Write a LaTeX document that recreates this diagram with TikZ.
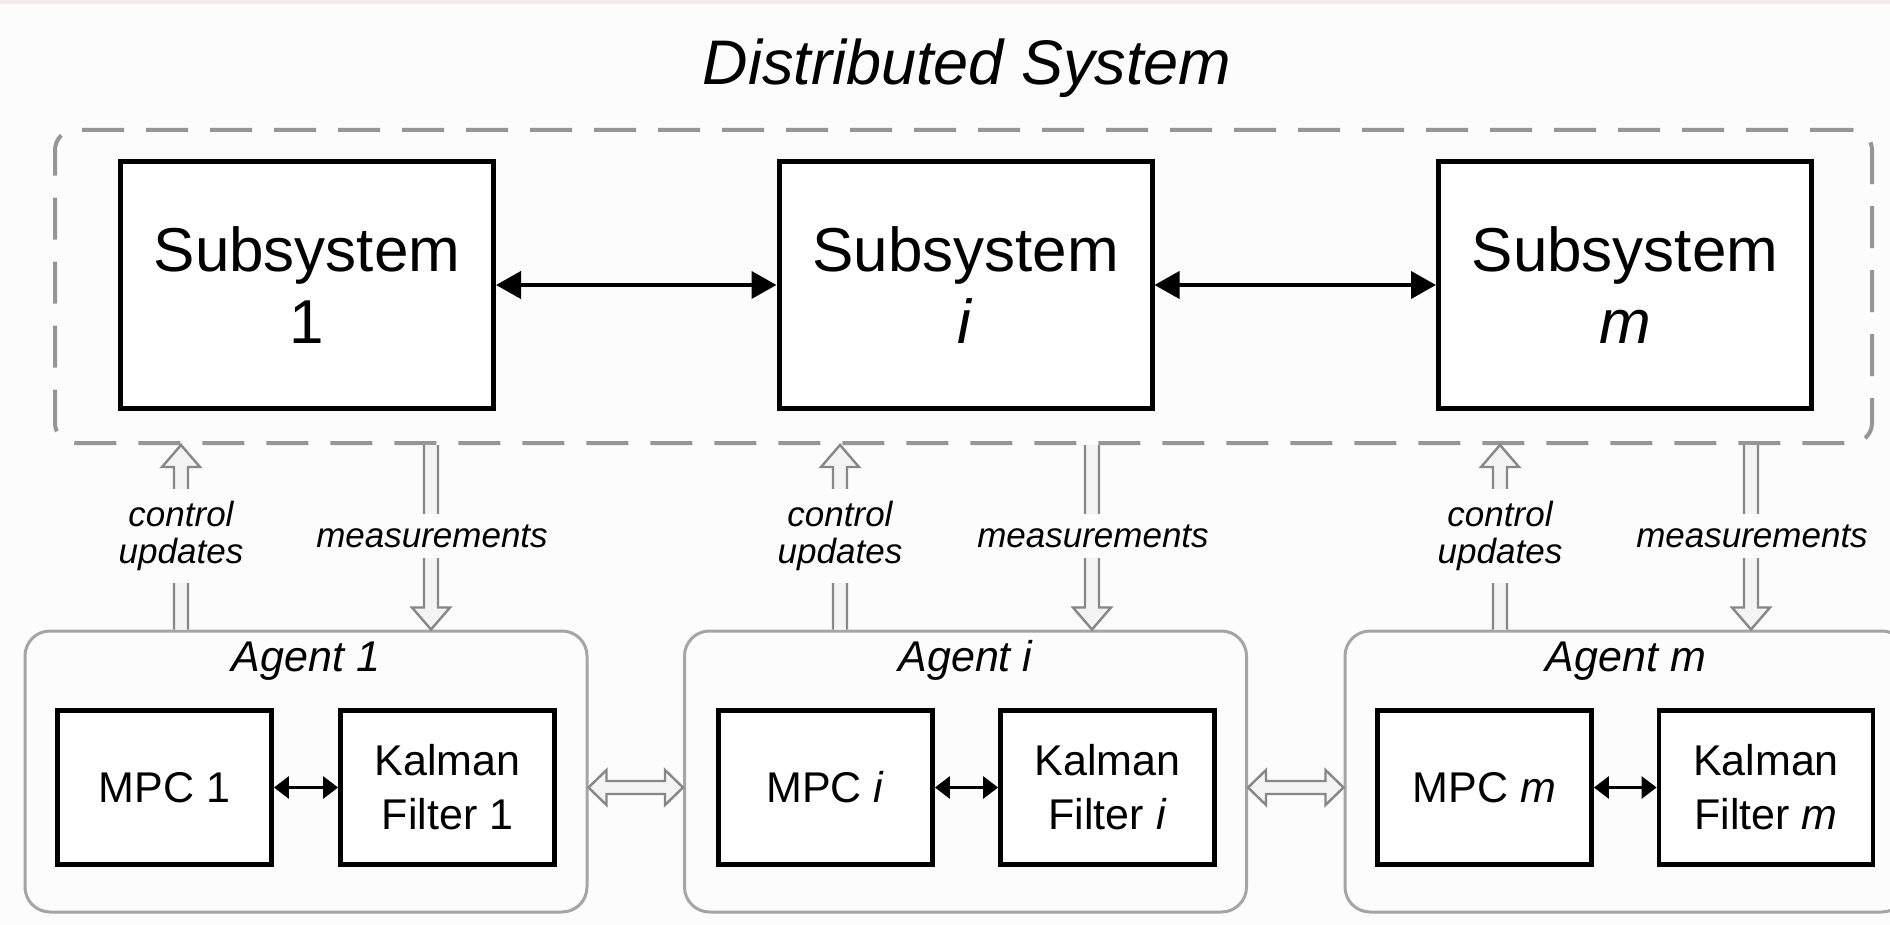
\documentclass[tikz,border=0pt]{standalone}
\usepackage{fontspec}
\setmainfont{Liberation Sans}
\usetikzlibrary{calc,arrows.meta}
\definecolor{bgc}{RGB}{252,252,252}
\definecolor{topstrip}{RGB}{243,234,234}
\definecolor{dashgray}{RGB}{150,150,150}
\definecolor{agentgray}{RGB}{165,165,165}
\definecolor{hagray}{RGB}{135,135,135}
\definecolor{hafillc}{RGB}{244,244,244}

% single-headed hollow block arrow: tail #1, tip #2
\newcommand{\hollowarrow}[2]{%
  \coordinate (tmpH) at ($(#2)!11pt!(#1)$);
  \fill[hafill] ($(#1)!3.5pt!90:(#2)$) -- ($(tmpH)!3.5pt!90:(#2)$) -- ($(tmpH)!9.5pt!90:(#2)$) -- (#2)
     -- ($(tmpH)!9.5pt!-90:(#2)$) -- ($(tmpH)!3.5pt!-90:(#2)$) -- ($(#1)!3.5pt!-90:(#2)$) -- cycle;
  \draw[haline] ($(#1)!3.5pt!90:(#2)$) -- ($(tmpH)!3.5pt!90:(#2)$) -- ($(tmpH)!9.5pt!90:(#2)$) -- (#2)
     -- ($(tmpH)!9.5pt!-90:(#2)$) -- ($(tmpH)!3.5pt!-90:(#2)$) -- ($(#1)!3.5pt!-90:(#2)$);
}
% double-headed hollow block arrow between #1 and #2
\newcommand{\hollowdarrow}[2]{%
  \coordinate (tmpA) at ($(#1)!9pt!(#2)$);
  \coordinate (tmpB) at ($(#2)!9pt!(#1)$);
  \filldraw[hafill,haline] (#1) -- ($(tmpA)!8.75pt!90:(#2)$) -- ($(tmpA)!3.25pt!90:(#2)$)
     -- ($(tmpB)!3.25pt!-90:(#1)$) -- ($(tmpB)!8.75pt!-90:(#1)$) -- (#2)
     -- ($(tmpB)!8.75pt!90:(#1)$) -- ($(tmpB)!3.25pt!90:(#1)$)
     -- ($(tmpA)!3.25pt!-90:(#2)$) -- ($(tmpA)!8.75pt!-90:(#2)$) -- cycle;
}

\begin{document}
\begin{tikzpicture}[x=0.5pt,y=-0.5pt,
  sysbox/.style={draw=black, line width=2.5pt, fill=white, minimum width=186.5pt, minimum height=123.5pt,
    inner sep=0pt, align=center, font=\fontsize{31}{36}\selectfont},
  agentbox/.style={draw=agentgray, line width=1.5pt, rounded corners=12.5pt, minimum width=281pt,
    minimum height=140.5pt, inner sep=0pt},
  compbox/.style={draw=black, line width=2.4pt, fill=white, minimum width=107pt, minimum height=77pt,
    inner sep=0pt, align=center, font=\fontsize{21.5}{27}\selectfont},
  agentlabel/.style={anchor=base, inner sep=0pt, font=\fontsize{21.5}{25}\selectfont\itshape},
  flowlabel/.style={fill=bgc, inner xsep=2pt, align=center, font=\fontsize{17.5}{18.5}\selectfont\itshape},
  sysarrow/.style={line width=2pt, {Triangle[length=12.5pt,width=13.5pt]}-{Triangle[length=12.5pt,width=13.5pt]}},
  smallarrow/.style={line width=1.4pt, {Triangle[length=7.5pt,width=11pt]}-{Triangle[length=7.5pt,width=11pt]}},
  hafill/.style={fill=hafillc},
  haline/.style={draw=hagray, line width=1.2pt, line join=miter},
]
\useasboundingbox (0,0) rectangle (1890,925);
\clip (0,0) rectangle (1890,925);
\fill[bgc] (0,0) rectangle (1890,925);
\fill[topstrip] (0,0) rectangle (1890,4);

% title
\node[anchor=base, inner sep=0pt, font=\fontsize{31.5}{36}\selectfont\itshape] (title) at (967,85) {Distributed System};

% dashed system boundary
\node[draw=dashgray, line width=2pt, dash pattern=on 21pt off 11pt, rounded corners=10pt,
  minimum width=908.5pt, minimum height=156.5pt, inner sep=0pt] (dsys) at (963.5,286.5) {};

% subsystems
\node[sysbox] (s1) at (307,285) {Subsystem\\1};
\node[sysbox] (si) at (965.5,285) {Subsystem\\\textit{i}};
\node[sysbox] (sm) at (1625,285) {Subsystem\\\textit{m}};
\draw[sysarrow] (s1.east) -- (si.west);
\draw[sysarrow] (si.east) -- (sm.west);

% agents
\node[agentbox] (ag1) at (306,771.5) {};
\node[agentbox] (agi) at (965.5,771.5) {};
\node[agentbox] (agm) at (1626,771.5) {};
\node[agentlabel] (ag1l) at ($(ag1.north)+(0,42)$) {Agent 1};
\node[agentlabel] (agil) at ($(agi.north)+(0,42)$) {Agent i};
\node[agentlabel] (agml) at ($(agm.north)+(0,42)$) {Agent m};

\node[compbox] (mpc1) at (164.5,787.5) {MPC 1};
\node[compbox] (k1) at (447.5,787.5) {Kalman\\Filter 1};
\node[compbox] (mpci) at (825.5,787.5) {MPC \textit{i}};
\node[compbox] (ki) at (1107.5,787.5) {Kalman\\Filter \textit{i}};
\node[compbox] (mpcm) at (1484.5,787.5) {MPC \textit{m}};
\node[compbox] (km) at (1766,787.5) {Kalman\\Filter \textit{m}};
\draw[smallarrow] (mpc1.east) -- (k1.west);
\draw[smallarrow] (mpci.east) -- (ki.west);
\draw[smallarrow] (mpcm.east) -- (km.west);

% agent-to-agent hollow arrows
\coordinate (h1a) at (ag1.east |- mpc1.east);
\coordinate (h1b) at (agi.west |- mpc1.east);
\coordinate (h2a) at (agi.east |- mpc1.east);
\coordinate (h2b) at (agm.west |- mpc1.east);
\hollowdarrow{h1a}{h1b}
\hollowdarrow{h2a}{h2b}

% control updates and measurements
\foreach \n/\cx/\mx in {1/181/431, i/840/1092, m/1500/1751} {
  \coordinate (cu\n a) at (\cx,0 |- ag1.north);
  \coordinate (cu\n b) at (\cx,0 |- dsys.south);
  \coordinate (me\n a) at (\mx,0 |- dsys.south);
  \coordinate (me\n b) at (\mx,0 |- ag1.north);
  \hollowarrow{cu\n a}{cu\n b}
  \hollowarrow{me\n a}{me\n b}
  \node[flowlabel, inner ysep=6pt] (cul\n) at (\cx,536) {control\\updates};
  \node[flowlabel, inner ysep=5.5pt] (mel\n) at (\mx+1,536) {measurements};
}
\end{tikzpicture}
\end{document}
